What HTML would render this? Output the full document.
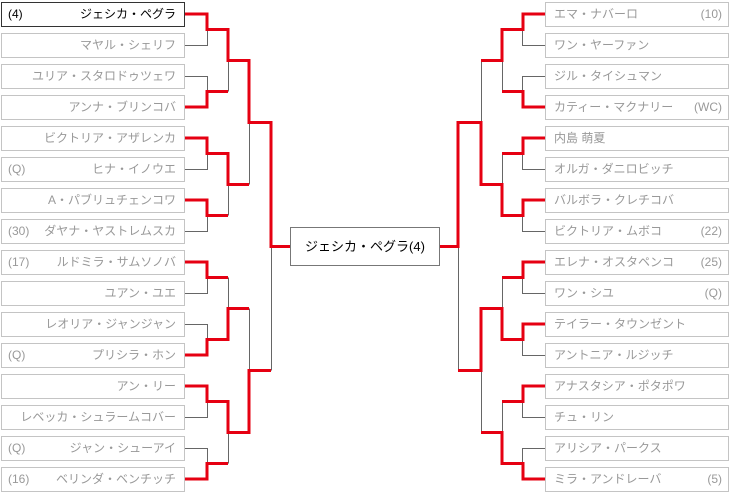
<!DOCTYPE html>
<html><head><meta charset="utf-8"><style>
body{margin:0;width:730px;height:494px;background:#fff;position:relative;overflow:hidden;font-family:"Liberation Sans","Noto Sans CJK JP",sans-serif;}
.b{position:absolute;box-sizing:border-box;height:25px;width:184px;border:1px solid #c4c4c4;color:#999;font-size:12px;line-height:23px;white-space:nowrap;}
.l{left:1px;text-align:right;padding-right:8px;}
.r{left:545px;text-align:left;padding-left:8px;}
.s{position:absolute;top:0;}
.l .s{left:6px}
.r .s{right:6px}
.w{border-color:#333;color:#000;}
svg{position:absolute;left:0;top:0;}
.c{position:absolute;left:290px;top:227px;width:150px;height:39px;box-sizing:border-box;border:1px solid #777;font-size:13px;line-height:37px;text-align:center;color:#000;}
</style></head><body>
<div class="b l w" style="top:2px"><span class="s">(4)</span>ジェシカ・ペグラ</div>
<div class="b l" style="top:33px">マヤル・シェリフ</div>
<div class="b l" style="top:64px">ユリア・スタロドゥツェワ</div>
<div class="b l" style="top:95px">アンナ・ブリンコバ</div>
<div class="b l" style="top:126px">ビクトリア・アザレンカ</div>
<div class="b l" style="top:157px"><span class="s">(Q)</span>ヒナ・イノウエ</div>
<div class="b l" style="top:188px">A・パブリュチェンコワ</div>
<div class="b l" style="top:219px"><span class="s">(30)</span>ダヤナ・ヤストレムスカ</div>
<div class="b l" style="top:250px"><span class="s">(17)</span>ルドミラ・サムソノバ</div>
<div class="b l" style="top:281px">ユアン・ユエ</div>
<div class="b l" style="top:312px">レオリア・ジャンジャン</div>
<div class="b l" style="top:343px"><span class="s">(Q)</span>プリシラ・ホン</div>
<div class="b l" style="top:374px">アン・リー</div>
<div class="b l" style="top:405px">レベッカ・シュラームコバー</div>
<div class="b l" style="top:436px"><span class="s">(Q)</span>ジャン・シューアイ</div>
<div class="b l" style="top:467px"><span class="s">(16)</span>ベリンダ・ベンチッチ</div>

<div class="b r" style="top:2px">エマ・ナバーロ<span class="s">(10)</span></div>
<div class="b r" style="top:33px">ワン・ヤーファン</div>
<div class="b r" style="top:64px">ジル・タイシュマン</div>
<div class="b r" style="top:95px">カティー・マクナリー<span class="s">(WC)</span></div>
<div class="b r" style="top:126px">内島 萌夏</div>
<div class="b r" style="top:157px">オルガ・ダニロビッチ</div>
<div class="b r" style="top:188px">バルボラ・クレチコバ</div>
<div class="b r" style="top:219px">ビクトリア・ムボコ<span class="s">(22)</span></div>
<div class="b r" style="top:250px">エレナ・オスタペンコ<span class="s">(25)</span></div>
<div class="b r" style="top:281px">ワン・シユ<span class="s">(Q)</span></div>
<div class="b r" style="top:312px">テイラー・タウンゼント</div>
<div class="b r" style="top:343px">アントニア・ルジッチ</div>
<div class="b r" style="top:374px">アナスタシア・ポタポワ</div>
<div class="b r" style="top:405px">チュ・リン</div>
<div class="b r" style="top:436px">アリシア・パークス</div>
<div class="b r" style="top:467px">ミラ・アンドレーバ<span class="s">(5)</span></div>

<div class="c">ジェシカ・ペグラ(4)</div>

<svg width="730" height="494">
<g stroke="#666" stroke-width="1" fill="none">
<path d="M185 45.5H207.5V29.5 M185 76.5H207.5V91.5 M185 169.5H207.5V153.5 M185 231.5H207.5V215.5 M185 293.5H207.5V277.5 M185 324.5H207.5V339.5 M185 417.5H207.5V401.5 M185 448.5H207.5V463.5"/>
<path d="M228.5 60.5V91.5 M228.5 184.5V215.5 M228.5 277.5V308.5 M228.5 432.5V463.5"/>
<path d="M249.5 122.5V184.5 M249.5 308.5V370.5 M271.5 246.5V370.5"/>
<path d="M545 45.5H522.5V29.5 M545 76.5H522.5V91.5 M545 169.5H522.5V153.5 M545 231.5H522.5V215.5 M545 293.5H522.5V277.5 M545 355.5H522.5V339.5 M545 417.5H522.5V401.5 M545 448.5H522.5V463.5"/>
<path d="M502.5 60.5V91.5 M502.5 153.5V184.5 M502.5 277.5V308.5 M502.5 401.5V432.5"/>
<path d="M481.5 60.5V122.5 M481.5 370.5V432.5 M458.5 246.5V370.5"/>
</g>
<g stroke="#e60012" stroke-width="3" fill="none" stroke-linejoin="miter">
<path d="M185 14H207V29.5H228V60.5H249V122.5H271V246.5H290"/>
<path d="M185 107H207V91.5H228"/>
<path d="M185 138H207V153.5H228V184.5H249"/>
<path d="M185 200H207V215.5H228"/>
<path d="M185 262H207V277.5H228"/>
<path d="M185 355H207V339.5H228V308.5H249"/>
<path d="M185 386H207V401.5H228V432.5H249V370.5H271"/>
<path d="M185 479H207V463.5H228"/>
<path d="M545 14H523V29.5H502V60.5H481"/>
<path d="M545 107H523V91.5H502"/>
<path d="M545 138H523V153.5H502"/>
<path d="M545 200H523V215.5H502V184.5H481V122.5H458V246.5H440"/>
<path d="M545 262H523V277.5H502"/>
<path d="M545 324H523V339.5H502V308.5H481V370.5H458"/>
<path d="M545 386H523V401.5H502"/>
<path d="M545 479H523V463.5H502V432.5H481"/>
</g>
</svg>
</body></html>
